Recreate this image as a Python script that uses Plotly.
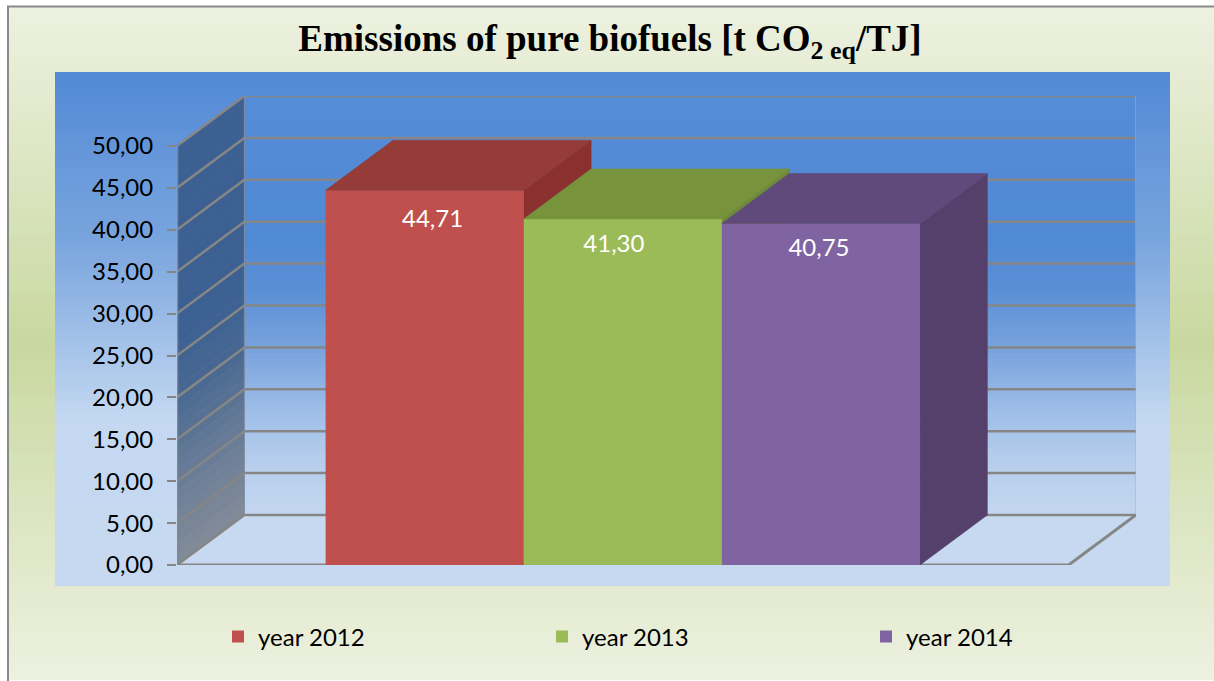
import plotly.graph_objects as go

# ---- data ----
series_names = ["year 2012", "year 2013", "year 2014"]
values = [44.71, 41.30, 40.75]
label_y = [41.05, 38.05, 37.65]
label_dx = [0.04, -0.045, -0.01]
y_ticks = [0, 5, 10, 15, 20, 25, 30, 35, 40, 45, 50]

front_colors = ["#c0504d", "#9bbb59", "#8064a2"]
top_colors = ["#953c39", "#77933c", "#604a7b"]
side_colors = ["#8a302e", "#6f8a38", "#54406a"]

W, H = 1214, 681
# projection of the chart's depth, in axis units
DX, DY = 0.34, 5.97
XMIN, XMAX = -1.25, 3.25
YMAX = 50
GRID = "#868686"


def grad(x0, x1, y0, y1, stops, xa, ya, n=80):
    ys = [y0 + (y1 - y0) * i / n for i in range(n + 1)]
    return go.Heatmap(
        x=[x0, x1], y=ys, z=[[i / (n - 1)] for i in range(n)], zmin=0, zmax=1,
        xaxis=xa, yaxis=ya, showscale=False, hoverinfo="skip",
        colorscale=[[s[0], s[1]] for s in stops],
    )


def poly(xs, ys, color, xa="x3", ya="y3"):
    return go.Scatter(x=xs, y=ys, mode="lines", fill="toself", fillcolor=color,
                      line=dict(color=color, width=0.5), xaxis=xa, yaxis=ya,
                      showlegend=False, hoverinfo="skip")


def seg(xs, ys, width=2.5, color=GRID):
    return go.Scatter(x=xs, y=ys, mode="lines", line=dict(color=color, width=width),
                      xaxis="x2", yaxis="y2", showlegend=False, hoverinfo="skip")


def mix(stops, t):
    for (t0, c0), (t1, c1) in zip(stops, stops[1:]):
        if t <= t1:
            f = (t - t0) / (t1 - t0)
            return "rgb(%d,%d,%d)" % tuple(round(p + (q - p) * f) for p, q in zip(c0, c1))
    return "rgb(%d,%d,%d)" % stops[-1][1]


traces = []

# background layer: pixel axes over the full page (y points down)
paper_stops = [[0, "#edf1e0"], [0.5, "#c9d8a0"], [1, "#edf1e0"]]
panel_stops = [[0, "#528ad5"], [0.33, "#7aa5de"], [0.68, "#c4d8f1"], [1, "#c6d9f1"]]
traces.append(grad(9, W, 7, 680, paper_stops, "x", "y"))
traces.append(grad(55, 1170, 72, 586, panel_stops, "x", "y"))

# walls and floor
traces.append(grad(XMIN + DX, XMAX + DX, DY, YMAX + DY,
                   [[0, "#c2d6ef"], [0.13, "#b5cdec"], [0.25, "#9dbde8"], [0.39, "#7aa3dd"],
                    [0.54, "#5a8fd6"], [0.66, "#5089d4"], [1, "#558cd8"]], "x2", "y2"))
traces.append(poly([XMIN, XMIN + DX, XMAX + DX, XMAX, XMIN], [0, DY, DY, 0, 0], "#c6d9f1", "x2", "y2"))

wall_stops = [(0, (128, 138, 152)), (0.2, (104, 124, 150)), (0.4, (72, 104, 146)),
              (0.55, (60, 96, 146)), (1, (60, 96, 146))]
bands = 40
for i in range(bands):
    a = YMAX * i / bands
    b = YMAX * (i + 1) / bands
    traces.append(poly([XMIN, XMIN + DX, XMIN + DX, XMIN, XMIN],
                       [a, a + DY, b + DY, b, a], mix(wall_stops, i / (bands - 1)), "x2", "y2"))

# gridlines: back wall + side wall
for v in y_ticks:
    traces.append(seg([XMIN, XMIN + DX, XMAX + DX], [v, v + DY, v + DY]))
traces.append(seg([XMIN, XMIN], [0, YMAX], 2.5))
traces.append(seg([XMIN + DX, XMIN + DX], [DY, YMAX + DY], 1, "#7f8fa5"))
traces.append(seg([XMAX + DX, XMAX + DX], [DY, YMAX + DY], 1, "#9fb3cc"))
traces.append(seg([XMIN, XMAX, XMAX + DX], [0, 0, DY], 3))

# side faces sit on the lower layer so the next bar covers them
for i, v in enumerate(values):
    r = i + 0.5
    traces.append(poly([r, r + DX, r + DX, r, r], [0, DY, v + DY, v, 0], side_colors[i], "x2", "y2"))

# bars: real bar traces for the fronts, projected faces for the tops
for i, (name, v) in enumerate(zip(series_names, values)):
    traces.append(go.Bar(x=[i], y=[v], width=1, name=name, marker=dict(color=front_colors[i], line_width=0),
                         xaxis="x3", yaxis="y3", hoverinfo="skip"))
for i, v in enumerate(values):
    l, r = i - 0.5, i + 0.5
    traces.append(poly([l, l + DX, r + DX, r, l], [v, v + DY, v + DY, v, v], top_colors[i]))

traces.append(go.Scatter(
    x=[i + d for i, d in enumerate(label_dx)], y=label_y, mode="text",
    text=[f"{v:.2f}".replace(".", ",") for v in values],
    textfont=dict(family="Lato", size=24, color="white"), textposition="middle center",
    xaxis="x3", yaxis="y3", showlegend=False, hoverinfo="skip"))

fig = go.Figure(traces)
dom_x = [177 / W, 1136 / W]
dom_y = [1 - 565 / H, 1 - 96 / H]
xr = [XMIN, XMAX + DX]
yr = [0, YMAX + DY]
hidden = dict(visible=False, fixedrange=True)
fig.update_layout(
    width=W, height=H, margin=dict(l=0, r=0, t=0, b=0, autoexpand=False), autosize=False,
    paper_bgcolor="white", plot_bgcolor="rgba(0,0,0,0)", separators=",.",
    barmode="overlay",
    title=dict(text="<b>Emissions of pure biofuels [t CO<sub>2 eq</sub>/TJ]</b>",
               x=610 / W, xanchor="center", y=1 - 38 / H, yanchor="middle",
               font=dict(family="Liberation Serif", size=37, color="black")),
    xaxis=dict(domain=[0, 1], range=[0, W], **hidden),
    yaxis=dict(domain=[0, 1], range=[H, 0], **hidden),
    xaxis2=dict(domain=dom_x, range=xr, **hidden),
    yaxis2=dict(domain=dom_y, range=yr, anchor="x2", tickvals=y_ticks, tickformat=".2f",
                showgrid=False, zeroline=False, showline=False, ticks="outside", ticklen=9,
                tickwidth=2, tickcolor=GRID, fixedrange=True, ticklabelstandoff=9,
                tickfont=dict(family="Lato", size=24, color="black")),
    xaxis3=dict(domain=dom_x, range=xr, **hidden),
    yaxis3=dict(domain=dom_y, range=yr, **hidden),
    legend=dict(orientation="h", x=218 / W, xanchor="left", y=1 - 637 / H, yanchor="middle",
                entrywidth=279, entrywidthmode="pixels", bgcolor="rgba(0,0,0,0)",
                font=dict(family="Lato", size=24, color="black"), traceorder="normal"),
    shapes=[dict(type="rect", xref="paper", yref="paper", x0=8 / W, x1=1.01, y0=-0.01, y1=1 - 6.5 / H,
                 line=dict(color="#8a8a8a", width=2), layer="above")],
)
fig.write_html("out.html", config=dict(displayModeBar=False),
               post_script="document.body.style.margin='0';document.body.style.overflow='hidden';")
